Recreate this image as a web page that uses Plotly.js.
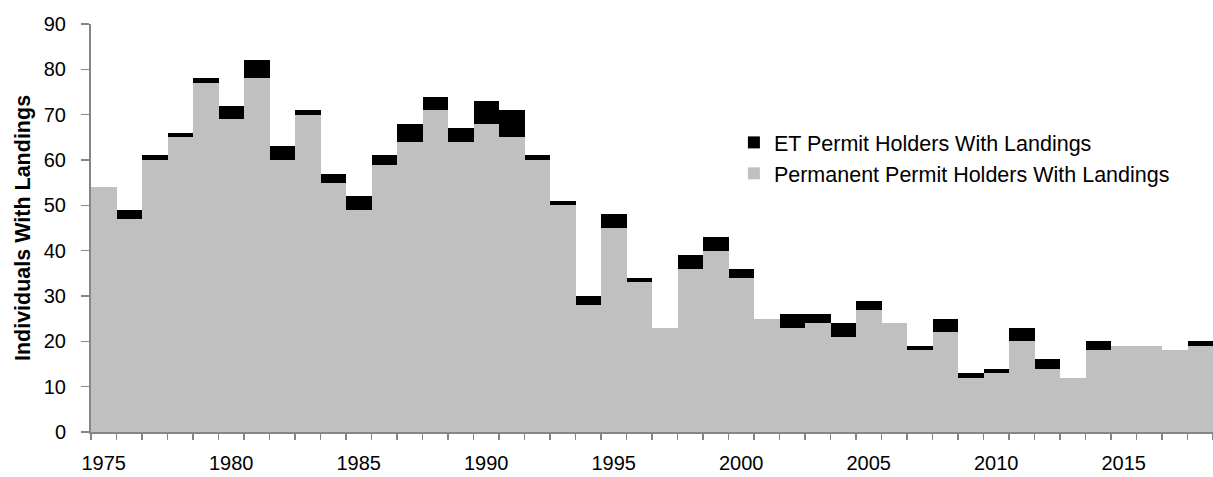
<!DOCTYPE html>
<html>
<head>
<meta charset="utf-8">
<script src="https://cdn.plot.ly/plotly-3.0.1.min.js"></script>
<style>html,body{margin:0;padding:0;background:#fff;}#chart{width:1213px;height:477px;}</style>
</head>
<body>
<div id="chart"></div>
<script>
const years = [1975,1976,1977,1978,1979,1980,1981,1982,1983,1984,1985,1986,1987,1988,1989,1990,1991,1992,1993,1994,1995,1996,1997,1998,1999,2000,2001,2002,2003,2004,2005,2006,2007,2008,2009,2010,2011,2012,2013,2014,2015,2016,2017,2018];
const permanent = [54,47,60,65,77,69,78,60,70,55,49,59,64,71,64,68,65,60,50,28,45,33,23,36,40,34,25,23,24,21,27,24,18,22,12,13,20,14,12,18,19,19,18,19];
const et = [0,2,1,1,1,3,4,3,1,2,3,2,4,3,3,5,6,1,1,2,3,1,0,3,3,2,0,3,2,3,2,0,1,3,1,1,3,2,0,2,0,0,0,1];
const tickYears = [1975,1980,1985,1990,1995,2000,2005,2010,2015];
const tickLabels = ["1975","1980","1985","1990","1995","2000","2005","2010","2015"];

const font = "Liberation Sans, Arial, sans-serif";
const traces = [
  {type:'bar', x: years, y: permanent, name:'Permanent Permit Holders With Landings',
   marker:{color:'#C0C0C0', line:{width:0}}},
  {type:'bar', x: years, y: et, name:'ET Permit Holders With Landings',
   marker:{color:'#000000', line:{width:0}}}
];
const layout = {
  width:1213, height:477,
  margin:{l:91, r:0, t:24, b:45, pad:0},
  barmode:'stack', bargap:0,
  paper_bgcolor:'#fff', plot_bgcolor:'#fff',
  font:{family:font, size:20, color:'#000'},
  showlegend:true,
  legend:{x:0.573, y:0.76, xanchor:'left', yanchor:'top', traceorder:'reversed',
          font:{family:font, size:21.5, color:'#000'}, bgcolor:'rgba(0,0,0,0)', itemwidth:30},
  xaxis:{range:[1974.5,2018.5], tickmode:'array', tickvals:tickYears, ticktext:tickLabels,
         ticks:'', showgrid:false, zeroline:false, showline:true, linecolor:'#868686', linewidth:2,
         ticklabelstandoff:12,
         minor:{tickmode:'linear', tick0:1974.5, dtick:1, ticks:'outside', ticklen:6, tickcolor:'#868686', tickwidth:1.5, showgrid:false},
         tickfont:{family:font, size:20, color:'#000'}},
  yaxis:{range:[0,90], tickmode:'linear', tick0:0, dtick:10, ticks:'outside', ticklen:8,
         tickcolor:'#868686', tickwidth:1.5, showgrid:false, zeroline:false, showline:true,
         linecolor:'#868686', linewidth:2, ticklabelstandoff:11,
         tickfont:{family:font, size:20, color:'#000'},
         title:{text:'<b>Individuals With Landings</b>', font:{family:font, size:21.5, color:'#000'}, standoff:7}}
};
Plotly.newPlot('chart', traces, layout, {staticPlot:true, displayModeBar:false});
</script>
</body>
</html>
